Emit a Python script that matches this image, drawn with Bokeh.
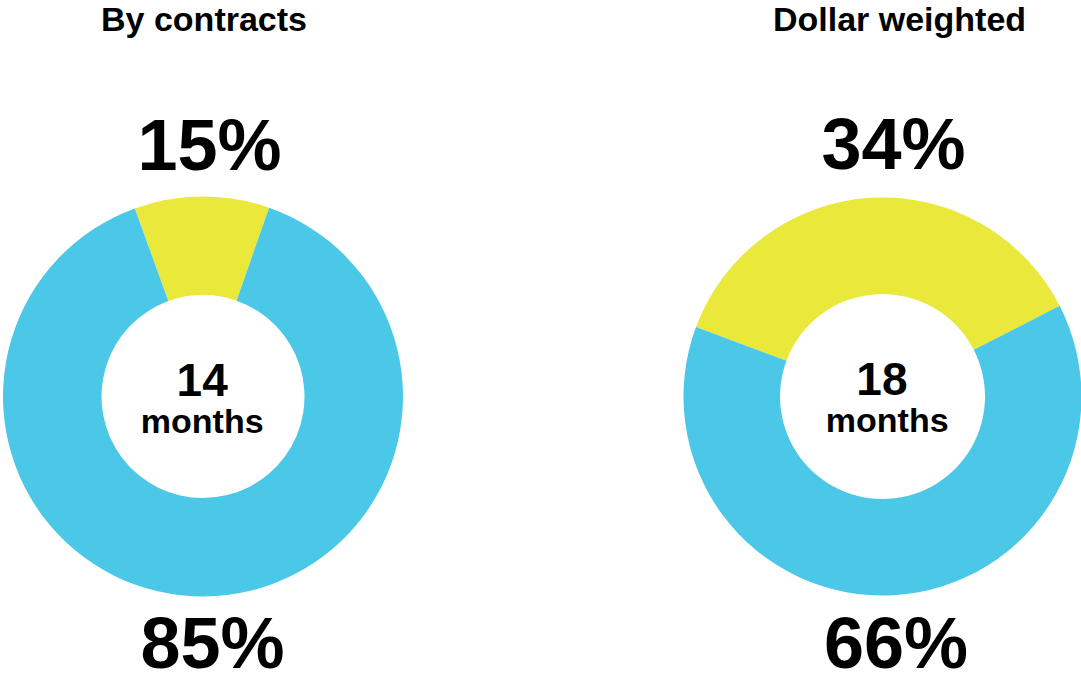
import math
from bokeh.plotting import figure
from bokeh.models import Range1d, ColumnDataSource
from bokeh.core.properties import value
from bokeh.embed import file_html
from bokeh.resources import INLINE

# ---- data ----
titles = ["By contracts", "Dollar weighted"]
months_value = ["14", "18"]
months_word = ["months", "months"]
yellow_labels = ["15%", "34%"]
blue_labels = ["85%", "66%"]
# shares of the ring as drawn in the picture (percent)
yellow_drawn = [10.9, 36.8]
blue_drawn = [89.1, 63.2]
# where the yellow slice begins (degrees, counter-clockwise from 3 o'clock)
yellow_start_deg = [70.7, 27.1]

YELLOW = "#EAE83B"
BLUE = "#4BC8E8"
FONT = "Liberation Sans"

# ---- layout (page pixels) ----
W, H = 1081, 676
def Y(py):
    return H - py

ring_cx = [202.5, 882.0]
ring_cy = 396.0
R_out = [200.0, 199.0]
R_in = [101.5, 102.5]

p = figure(width=W, height=H, output_backend="svg", toolbar_location=None,
           x_range=Range1d(0, W), y_range=Range1d(0, H),
           x_axis_location=None, y_axis_location=None,
           min_border=0)
p.grid.visible = False
p.outline_line_color = None
p.background_fill_color = "white"
p.border_fill_color = "white"

# wedges
wx, wy, ws, we, wc, ri, ro = [], [], [], [], [], [], []
for i in range(2):
    a0 = math.radians(yellow_start_deg[i])
    a1 = a0 + yellow_drawn[i] / 100.0 * 2 * math.pi
    a2 = a1 + blue_drawn[i] / 100.0 * 2 * math.pi
    wx += [ring_cx[i], ring_cx[i]]
    wy += [Y(ring_cy), Y(ring_cy)]
    ws += [a0, a1]
    we += [a1, a2]
    wc += [YELLOW, BLUE]
    ri += [R_in[i], R_in[i]]
    ro += [R_out[i], R_out[i]]
src = ColumnDataSource(dict(x=wx, y=wy, s=ws, e=we, c=wc, ri=ri, ro=ro))
p.annular_wedge(x="x", y="y", inner_radius="ri", outer_radius="ro",
                start_angle="s", end_angle="e", fill_color="c",
                line_color=None, source=src)

def add_text(xs, baselines, texts, size):
    # the SVG text is drawn about a third of an em below its anchor
    ys = [Y(b) + 0.38 * size for b in baselines]
    p.text(x=xs, y=ys, text=texts,
           text_font=value(FONT), text_font_style="bold",
           text_font_size=f"{size}px", text_color="black",
           text_align="center", text_baseline="alphabetic")

add_text([203.5, 899.0], [31.5, 31.5], titles, 34)
add_text([209.0, 893.0], [172.0, 171.0], yellow_labels, 72)
add_text([212.0, 895.5], [670.0, 670.0], blue_labels, 72)
add_text([201.7, 881.4], [396.5, 396.0], months_value, 46)
add_text([201.7, 886.7], [433.0, 432.7], months_word, 34)

open("out.html", "w").write(file_html(p, INLINE))
